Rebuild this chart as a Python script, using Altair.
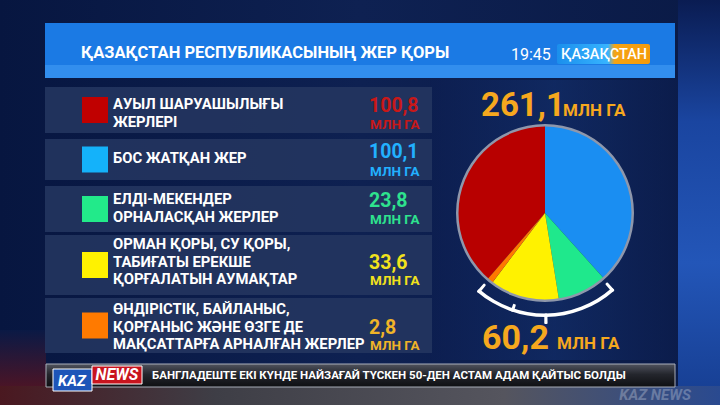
import math
import altair as alt
import pandas as pd

# ---------------- data ----------------
categories = [
    "АУЫЛ ШАРУАШЫЛЫҒЫ\nЖЕРЛЕРІ",
    "БОС ЖАТҚАН ЖЕР",
    "ЕЛДІ-МЕКЕНДЕР\nОРНАЛАСҚАН ЖЕРЛЕР",
    "ОРМАН ҚОРЫ, СУ ҚОРЫ,\nТАБИҒАТЫ ЕРЕКШЕ\nҚОРҒАЛАТЫН АУМАҚТАР",
    "ӨНДІРІСТІК, БАЙЛАНЫС,\nҚОРҒАНЫС ЖӘНЕ ӨЗГЕ ДЕ\nМАҚСАТТАРҒА АРНАЛҒАН ЖЕРЛЕР",
]
values = [100.8, 100.1, 23.8, 33.6, 2.8]
value_labels = ["100,8", "100,1", "23,8", "33,6", "2,8"]
pie_order = [5, 1, 2, 3, 4]          # clockwise from 12 o'clock
bracket_members = [2, 3, 4]          # slices covered by the bracket (indices)
total_label = "261,1"
bracket_label = "60,2"
unit = "МЛН ГА"
title = "ҚАЗАҚСТАН РЕСПУБЛИКАСЫНЫҢ ЖЕР ҚОРЫ"
clock = "19:45"
channel = "ҚАЗАҚСТАН"
ticker = "БАНГЛАДЕШТЕ ЕКІ КҮНДЕ НАЙЗАҒАЙ ТҮСКЕН 50-ДЕН АСТАМ АДАМ ҚАЙТЫС БОЛДЫ"

# ---------------- styles / layout ----------------
slice_colors = ["#b80000", "#1a8ef2", "#1fe88c", "#fff200", "#ff7800"]
square_colors = ["#c00000", "#14b2fa", "#22ea8a", "#fff200", "#ff7a00"]
value_colors = ["#c81818", "#22b0ff", "#2ee28e", "#f2e21c", "#f0b428"]
gold = "#f6a81e"
FONT = "Roboto, Liberation Sans, sans-serif"

row_top = [87, 139, 186, 235, 298]
row_bot = [133, 180, 232, 295, 353]
row_mid = [(a + b) / 2 for a, b in zip(row_top, row_bot)]
first_line_y = [105, 159, 200, 245, 310]
value_y = [105, 151, 200, 262, 327]
unit_y = [124, 171, 219, 280, 345]

CX, CY, R = 545, 213, 88

rows = pd.DataFrame({
    "label": categories,
    "vlabel": value_labels,
    "unit": [unit] * 5,
    "top": row_top, "bot": row_bot, "mid": row_mid, "ly": first_line_y,
    "vy": [v + 7 for v in value_y], "uy": [u + 5 for u in unit_y],
    "sq": square_colors, "vc": value_colors,
})
pie = pd.DataFrame({"cat": categories, "value": values, "ord": pie_order, "col": slice_colors})


def grad(stops, horizontal=False):
    return alt.LinearGradient(
        gradient="linear",
        stops=[alt.GradientStop(color=c, offset=o) for o, c in stops],
        x1=0, y1=0, x2=1 if horizontal else 0, y2=0 if horizontal else 1,
    )


def box(x, x2, y, y2, **kw):
    return alt.Chart(pd.DataFrame({"a": [0]})).mark_rect(**kw).encode(
        x=alt.value(x), x2=alt.value(x2), y=alt.value(y), y2=alt.value(y2))


def label(text, x, y, **kw):
    return alt.Chart(pd.DataFrame({"t": [text]})).mark_text(font=FONT, **kw).encode(
        x=alt.value(x), y=alt.value(y), text="t:N")


one = pd.DataFrame({"a": [0]})

# background
bg = box(0, 720, 0, 405, color=grad([(0, "#071640"), (0.5, "#0e2152"), (1, "#0a1a46")], horizontal=True))
bg_right = box(678, 720, 0, 405, color=grad([(0, "#0a1c52"), (0.3, "#1a45a0"), (0.65, "#2356b8"), (1, "#163d90")]))
bg_mid = box(430, 678, 80, 360, color=grad([(0, "#0c1d50"), (0.5, "#13306e"), (1, "#0c1d4e")], horizontal=True), opacity=0.6)
bg_bottom = box(0, 720, 386, 405, color=grad([(0, "#4a1820"), (0.3, "#3e3e46"), (0.7, "#55555e"), (1, "#2a4a90")], horizontal=True))
bg_leftred = box(0, 46, 330, 386, color=grad([(0, "#0b1a46"), (1, "#5a1420")]), opacity=0.8)

# title bar
bar = box(45, 675, 23, 78, color="#1b7ae4")
bar_strip = box(45, 675, 65, 78, color="#3590ee", opacity=0.9)
title_t = label(title, 81, 53, align="left", baseline="middle", fontSize=16.5, fontWeight="bold", color="white")
clock_t = label(clock, 511, 55, align="left", baseline="middle", fontSize=16, color="white")
logo = box(557, 650, 44, 64, color=grad([(0, "#1b8fec"), (0.55, "#37b4ff"), (0.62, "#f5a414"), (1, "#f59a0a")], horizontal=True), cornerRadius=2)
logo_t = label(channel, 604, 55, align="center", baseline="middle", fontSize=14.5, fontWeight=500, color="white")

# legend rows
base_rows = alt.Chart(rows)
panels = base_rows.mark_rect(color="#23355f", opacity=0.9).encode(
    x=alt.value(45), x2=alt.value(432),
    y=alt.Y("top:Q", scale=None), y2=alt.Y2("bot:Q"))
squares = base_rows.transform_calculate(t="datum.mid - 13", b="datum.mid + 13").mark_rect().encode(
    x=alt.value(82), x2=alt.value(108),
    y=alt.Y("t:Q", scale=None), y2=alt.Y2("b:Q"),
    color=alt.Color("sq:N", scale=None))
labels = base_rows.mark_text(font=FONT, fontSize=14.8, fontWeight="bold", color="white",
                             align="left", baseline="middle", lineBreak="\n", lineHeight=17.5).encode(
    x=alt.value(113), y=alt.Y("ly:Q", scale=None), text="label:N")
vals = base_rows.mark_text(font=FONT, fontSize=19.5, fontWeight="bold", align="left", baseline="alphabetic").encode(
    x=alt.value(369), y=alt.Y("vy:Q", scale=None), text="vlabel:N", color=alt.Color("vc:N", scale=None))
units = base_rows.mark_text(font=FONT, fontSize=13.5, fontWeight="bold", align="left", baseline="alphabetic").encode(
    x=alt.value(370), y=alt.Y("uy:Q", scale=None), text="unit:N", color=alt.Color("vc:N", scale=None))

# pie
slices = alt.Chart(pie).mark_arc(radius=R).encode(
    x=alt.value(CX), y=alt.value(CY),
    theta=alt.Theta("value:Q", stack=True),
    order=alt.Order("ord:Q"),
    color=alt.Color("col:N", scale=None))
outline = alt.Chart(one).mark_arc(radius=R + 1, radius2=R - 1.5, color="#8e97ab").encode(
    x=alt.value(CX), y=alt.value(CY), theta=alt.value(0), theta2=alt.value(2 * math.pi))

# bracket over the slices it sums
total = sum(values)
cum = {}
acc = 0.0
for i in sorted(range(5), key=lambda k: pie_order[k]):
    cum[i] = (acc, acc + values[i])
    acc += values[i]
b_start = min(cum[i][0] for i in bracket_members) / total * 2 * math.pi
b_end = max(cum[i][1] for i in bracket_members) / total * 2 * math.pi
b_mid = (b_start + b_end) / 2


def arcpiece(t1, t2, r_out, r_in):
    return alt.Chart(one).mark_arc(radius=r_out, radius2=r_in, color="white", cornerRadius=1).encode(
        x=alt.value(CX), y=alt.value(CY), theta=alt.value(t1), theta2=alt.value(t2))


tw = 0.03
bracket = alt.layer(
    arcpiece(b_start, b_end, 104, 100.5),
    arcpiece(b_start, b_start + tw, 104, 93),
    arcpiece(b_end - tw, b_end, 104, 93),
    arcpiece(b_mid + 0.33 - tw / 2, b_mid + 0.33 + tw / 2, 104, 96),
    arcpiece(b_mid - tw / 2, b_mid + tw / 2, 111, 100.5),
)

big1 = label(total_label, 481, 116, align="left", baseline="alphabetic", fontSize=33, fontWeight="bold", color=gold)
big1u = label(unit, 563, 116, align="left", baseline="alphabetic", fontSize=17, fontWeight="bold", color=gold)
big2 = label(bracket_label, 482, 349, align="left", baseline="alphabetic", fontSize=34, fontWeight="bold", color=gold)
big2u = label(unit, 557, 349, align="left", baseline="alphabetic", fontSize=17, fontWeight="bold", color=gold)

# ticker
tick_bar = box(46, 675, 364, 387, color=grad([(0, "#50535e"), (0.45, "#24262d"), (1, "#0e0f12")]),
               stroke="#a8adb8", strokeWidth=1)
kaz_box = box(53, 92, 369, 391, color="#1d55b8", stroke="white", strokeWidth=1)
news_box = box(92, 142, 366, 384, color="#c8141e", stroke="white", strokeWidth=1)
kaz_t = label("KAZ", 72, 381, align="center", baseline="middle", fontSize=15, fontWeight="bold",
              fontStyle="italic", color="white")
news_t = label("NEWS", 117, 375, align="center", baseline="middle", fontSize=16, fontWeight="bold",
               fontStyle="italic", color="white")
ticker_t = label(ticker, 152, 376, align="left", baseline="middle", fontSize=11.5, fontWeight="bold", color="white")
wm = label("KAZ NEWS", 655, 395, align="center", baseline="middle", fontSize=15, fontWeight="bold",
           fontStyle="italic", color="#c8d0e0", opacity=0.35)

chart = alt.layer(
    bg, bg_right, bg_mid, bg_bottom, bg_leftred,
    bar, bar_strip, title_t, clock_t, logo, logo_t,
    panels, squares, labels, vals, units,
    slices, outline, bracket,
    big1, big1u, big2, big2u,
    tick_bar, kaz_box, news_box, kaz_t, news_t, ticker_t, wm,
).properties(
    width=720, height=405, padding=0, autosize="none", background="#0b1a48"
).configure_view(strokeWidth=0)

chart.save("out.html", embed_options={"renderer": "svg", "actions": False})
